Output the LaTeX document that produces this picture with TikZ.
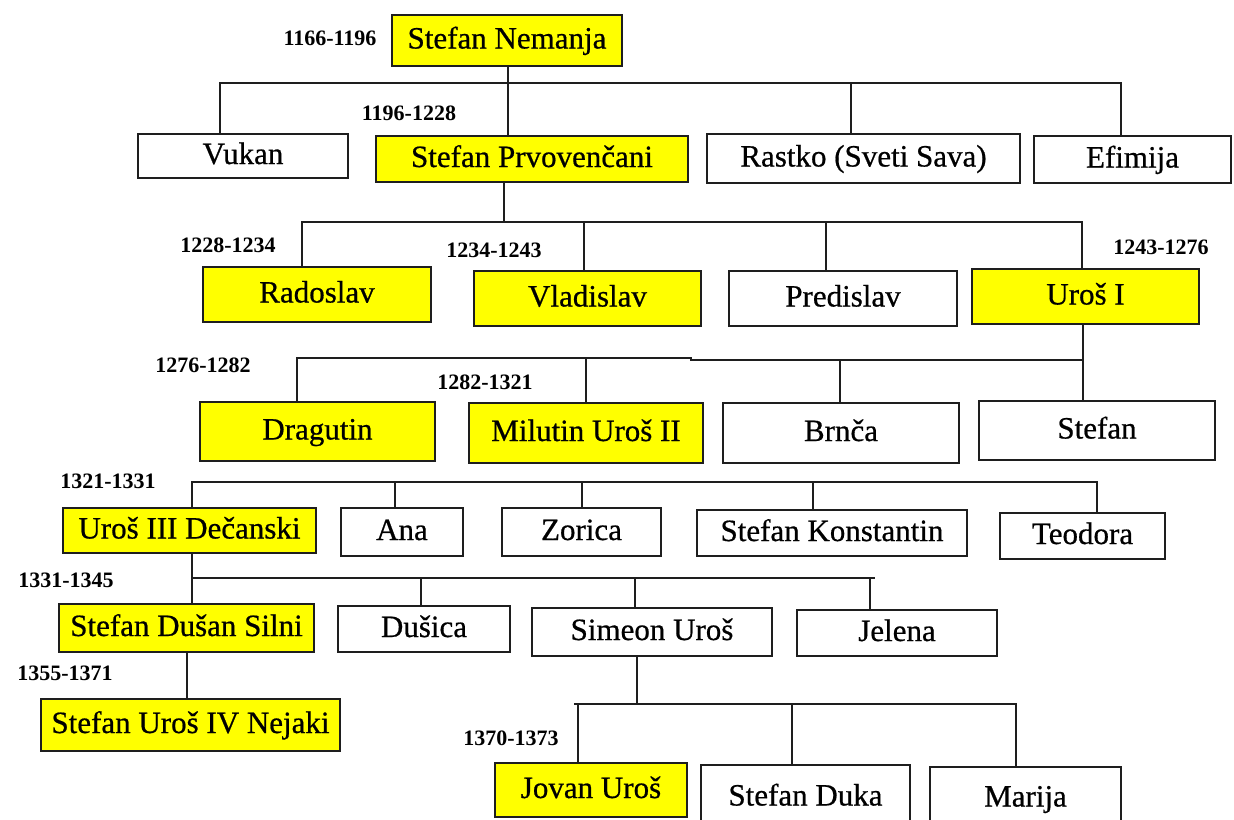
\documentclass[tikz,border=0pt]{standalone}
\usepackage{fontspec}
\setmainfont{Liberation Serif}
\newfontfamily\namefont[FakeBold=0.6]{Liberation Serif}
\definecolor{famyellow}{HTML}{FFFF00}
\definecolor{linegray}{HTML}{1E1E1E}
% a family member box given by its corners: style, name, x1, y1, x2, y2, text
\newcommand\person[7]{%
  \pgfmathsetmacro\pcx{(#3+#5)/2}\pgfmathsetmacro\pcy{(#4+#6)/2}%
  \pgfmathsetmacro\pwd{(#5-#3)*0.5}\pgfmathsetmacro\pht{(#6-#4)*0.5}%
  \node[#1, minimum width=\pwd pt, minimum height=\pht pt] (#2) at (\pcx,\pcy) {#7};}
% a drop line from a point on a bus down to the top of a box
\newcommand\drop[4]{\coordinate (#1) at (#2,#3);\draw[famline] (#1) -- (#1 |- #4.north);}
\begin{document}
\begin{tikzpicture}[x=0.5pt, y=-0.5pt,
  famline/.style={draw=linegray, line width=1pt, line cap=rect},
  member/.style={draw=linegray, line width=1pt, inner sep=0pt, fill=white,
    font=\namefont\fontsize{15.5}{18}\selectfont, text height=10.5pt, text depth=2.5pt},
  ruler/.style={member, fill=famyellow},
  reign/.style={font=\fontsize{11}{13}\selectfont\bfseries, inner sep=0pt}]
\useasboundingbox (0,0) rectangle (1234,819);
\clip (0,0) rectangle (1234,819);
\fill[white] (0,0) rectangle (1234,819);

% ---- generation boxes ----
\person{ruler}{nem}{392}{15}{622}{66}{Stefan Nemanja}
\person{member}{vuk}{138}{134}{348}{178}{Vukan}
\person{ruler}{prv}{376}{136}{688}{182}{Stefan Prvovenčani}
\person{member}{ras}{707}{134}{1020}{183}{Rastko (Sveti Sava)}
\person{member}{efi}{1034}{136}{1231}{183}{Efimija}

\person{ruler}{rad}{203}{267}{431}{322}{Radoslav}
\person{ruler}{vla}{474}{271}{701}{326}{Vladislav}
\person{member}{pre}{729}{271}{957}{326}{Predislav}
\person{ruler}{ur1}{972}{269}{1199}{324}{Uroš I}

\person{ruler}{dra}{200}{402}{435}{461}{Dragutin}
\person{ruler}{mil}{469}{403}{703}{463}{Milutin Uroš II}
\person{member}{brn}{723}{403}{959}{463}{Brnča}
\person{member}{stf}{979}{401}{1215}{460}{Stefan}

\person{ruler}{ur3}{63}{508}{316}{553}{Uroš III Dečanski}
\person{member}{ana}{341}{508}{463}{556}{Ana}
\person{member}{zor}{502}{508}{661}{556}{Zorica}
\person{member}{sko}{697}{510}{967}{556}{Stefan Konstantin}
\person{member}{teo}{1000}{513}{1165}{559}{Teodora}

\person{ruler}{dus}{59}{604}{314}{652}{Stefan Dušan Silni}
\person{member}{dsc}{338}{606}{510}{652}{Dušica}
\person{member}{sim}{532}{608}{772}{656}{Simeon Uroš}
\person{member}{jel}{797}{610}{997}{656}{Jelena}

\person{ruler}{nej}{41}{699}{340}{751}{Stefan Uroš IV Nejaki}

\person{ruler}{jov}{495}{763}{687}{817}{Jovan Uroš}
\person{member}{duk}{701}{765}{910}{830}{Stefan Duka}
\person{member}{mar}{930}{767}{1121}{830}{Marija}

% ---- reign years ----
\node[reign] (r-nem) at (330,38) {1166-1196};
\node[reign] (r-prv) at (409,113) {1196-1228};
\node[reign] (r-rad) at (228,245) {1228-1234};
\node[reign] (r-vla) at (494,250) {1234-1243};
\node[reign] (r-ur1) at (1161,247) {1243-1276};
\node[reign] (r-dra) at (203,365) {1276-1282};
\node[reign] (r-mil) at (485,382) {1282-1321};
\node[reign] (r-ur3) at (108,481) {1321-1331};
\node[reign] (r-dus) at (66,580) {1331-1345};
\node[reign] (r-nej) at (65,673) {1355-1371};
\node[reign] (r-jov) at (511,738) {1370-1373};

% ---- children of Stefan Nemanja ----
\coordinate (b1l) at (220,83);
\coordinate (b1r) at (1121,83);
\draw[famline] (b1l) -- (b1r);
\coordinate (b1m) at (508,83);
\draw[famline] (b1m |- nem.south) -- (b1m |- prv.north);
\drop{d-vuk}{220}{83}{vuk}
\drop{d-ras}{851}{83}{ras}
\drop{d-efi}{1121}{83}{efi}

% ---- children of Stefan Prvovencani ----
\coordinate (b2l) at (302,222);
\coordinate (b2r) at (1082,222);
\draw[famline] (b2l) -- (b2r);
\coordinate (b2m) at (504,222);
\draw[famline] (b2m |- prv.south) -- (b2m);
\drop{d-rad}{302}{222}{rad}
\drop{d-vla}{584}{222}{vla}
\drop{d-pre}{826}{222}{pre}
\drop{d-ur1}{1082}{222}{ur1}

% ---- children of Uros I ----
\coordinate (b3l) at (297,357.5);
\coordinate (b3k) at (691,357.5);
\coordinate (b3j) at (691,360);
\coordinate (b3r) at (1083,360);
\draw[famline] (b3l) -- (b3k);
\draw[famline] (b3j) -- (b3r);
\draw[famline] (b3r |- ur1.south) -- (b3r);
\drop{d-dra}{297}{357.5}{dra}
\drop{d-mil}{586}{357.5}{mil}
\drop{d-brn}{840}{360}{brn}
\drop{d-stf}{1083}{360}{stf}

% ---- children of Milutin ----
\coordinate (b4l) at (192,482);
\coordinate (b4r) at (1097,482);
\draw[famline] (b4l) -- (b4r);
\drop{d-ur3}{192}{482}{ur3}
\drop{d-ana}{395}{482}{ana}
\drop{d-zor}{582}{482}{zor}
\drop{d-sko}{813}{482}{sko}
\drop{d-teo}{1097}{482}{teo}

% ---- children of Uros III Decanski ----
\coordinate (b5l) at (192,578);
\coordinate (b5r) at (874,578);
\draw[famline] (b5l) -- (b5r);
\draw[famline] (b5l |- ur3.south) -- (b5l);
\drop{d-dus}{192}{578}{dus}
\drop{d-dsc}{421}{578}{dsc}
\drop{d-sim}{635}{578}{sim}
\drop{d-jel}{870}{578}{jel}

% ---- son of Stefan Dusan ----
\coordinate (c-nej) at (187,700);
\draw[famline] (c-nej |- dus.south) -- (c-nej |- nej.north);

% ---- children of Simeon Uros ----
\coordinate (b6l) at (575,704);
\coordinate (b6r) at (1016,704);
\draw[famline] (b6l) -- (b6r);
\coordinate (b6m) at (637,704);
\draw[famline] (b6m |- sim.south) -- (b6m);
\drop{d-jov}{578}{704}{jov}
\drop{d-duk}{792}{704}{duk}
\drop{d-mar}{1016}{704}{mar}
\end{tikzpicture}
\end{document}
